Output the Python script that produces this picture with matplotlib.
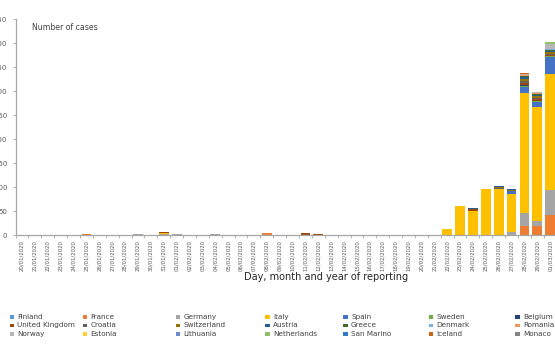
import numpy as np
import matplotlib
matplotlib.use("Agg")
import matplotlib.pyplot as plt
from matplotlib.patches import Rectangle

# reporting days 20/01/2020 .. 01/03/2020
dates = ([f"{d:02d}/01/2020" for d in range(20, 32)]
         + [f"{d:02d}/02/2020" for d in range(1, 30)]
         + ["01/03/2020"])

countries = ["Finland", "France", "Germany", "Italy", "Spain", "Sweden", "Belgium",
             "United Kingdom", "Croatia", "Switzerland", "Austria", "Greece", "Denmark", "Romania",
             "Norway", "Estonia", "Lithuania", "Netherlands", "San Marino", "Iceland", "Monaco"]
colors = ["#5b9bd5", "#ed7d31", "#a5a5a5", "#ffc000", "#4472c4", "#70ad47", "#264478",
          "#9e480e", "#636363", "#997300", "#255e91", "#43682b", "#7cafdd", "#f1975a",
          "#b7b7b7", "#ffcd33", "#698ed0", "#8cc168", "#327dc2", "#d26012", "#848484"]

# cases per country on the days that had any (index into dates -> value)
cases = {
    "Finland":        {10: 1},
    "France":         {5: 3, 9: 1, 11: 1, 19: 5, 39: 20, 40: 19, 41: 43},
    "Germany":        {9: 2, 11: 1, 12: 2, 15: 2, 18: 1, 23: 1, 37: 1, 38: 6, 39: 26, 40: 11, 41: 52},
    "Italy":          {11: 2, 33: 14, 34: 60, 35: 51, 36: 96, 37: 95, 38: 80, 39: 250, 40: 237, 41: 241},
    "Spain":          {12: 1, 38: 6, 39: 12, 40: 10, 41: 34},
    "Sweden":         {39: 3, 40: 2, 41: 2},
    "Belgium":        {38: 1, 39: 1, 40: 1},
    "United Kingdom": {11: 2, 22: 4, 23: 1, 35: 3, 39: 5, 40: 4, 41: 4},
    "Croatia":        {37: 3, 39: 3, 40: 2, 41: 1},
    "Switzerland":    {37: 1, 38: 1, 39: 6, 40: 4, 41: 5},
    "Austria":        {35: 2, 37: 2, 38: 2, 39: 3, 40: 2, 41: 2},
    "Greece":         {37: 1, 39: 2, 40: 1, 41: 2},
    "Denmark":        {39: 1, 40: 2, 41: 1},
    "Romania":        {39: 1, 40: 1, 41: 1},
    "Norway":         {39: 2, 40: 3, 41: 10},
    "Estonia":        {},
    "Lithuania":      {},
    "Netherlands":    {39: 1, 41: 4},
    "San Marino":     {},
    "Iceland":        {39: 1},
    "Monaco":         {},
}

W, H = 555, 351
fig = plt.figure(figsize=(W / 100, H / 100), dpi=100)
ax = fig.add_axes([15.6 / W, 1 - 235.3 / H, 541 / W, (235.3 - 19) / H])

x = np.arange(len(dates))
bottom = np.zeros(len(dates))
for name, col in zip(countries, colors):
    vals = np.zeros(len(dates))
    for i, v in cases[name].items():
        vals[i] = v
    ax.bar(x, vals, width=0.76, bottom=bottom, color=col, label=name, linewidth=0)
    bottom += vals

ax.set_xlim(-0.5, len(dates) - 0.5)
ax.set_ylim(0, 450)
ax.set_yticks(np.arange(0, 451, 50))
ax.set_xticks(x)
ax.set_xticklabels(dates, rotation=90, fontsize=3.9, color="#595959")
ax.set_xticks(np.arange(-0.5, len(dates), 1), minor=True)
ax.tick_params(axis="x", which="major", length=0, pad=3.5)
ax.tick_params(axis="x", which="minor", length=2, width=0.6, color="#a6a6a6")
ax.tick_params(axis="y", length=2.5, width=0.6, color="#a6a6a6", labelsize=5,
               labelcolor="#595959", pad=3.5)
for s in ["top", "right"]:
    ax.spines[s].set_visible(False)
for s in ["left", "bottom"]:
    ax.spines[s].set_color("#a6a6a6")
    ax.spines[s].set_linewidth(0.9)

fig.text(32 / W, 1 - 28 / H, "Number of cases", fontsize=5.6, color="#404040",
         va="center", ha="left")
fig.text(326 / W, 1 - 277 / H, "Day, month and year of reporting", fontsize=7,
         color="#262626", va="center", ha="center")

# legend, 7 columns x 3 rows (row-major like the original)
col_x = [11.7, 85, 177.7, 267.5, 345.5, 431, 517.5]
row_y = [316.7, 325.3, 334]
for k, (name, col) in enumerate(zip(countries, colors)):
    r, c = divmod(k, 7)
    cx, cy = col_x[c], row_y[r]
    fig.patches.append(Rectangle(((cx - 2.2) / W, 1 - (cy + 1.8) / H), 4.4 / W, 3.6 / H,
                                 transform=fig.transFigure, facecolor=col, edgecolor="none"))
    fig.text((cx + 5.5) / W, 1 - cy / H, name, fontsize=5.2, color="#404040",
             va="center", ha="left")

fig.savefig("out.png", dpi=100)
